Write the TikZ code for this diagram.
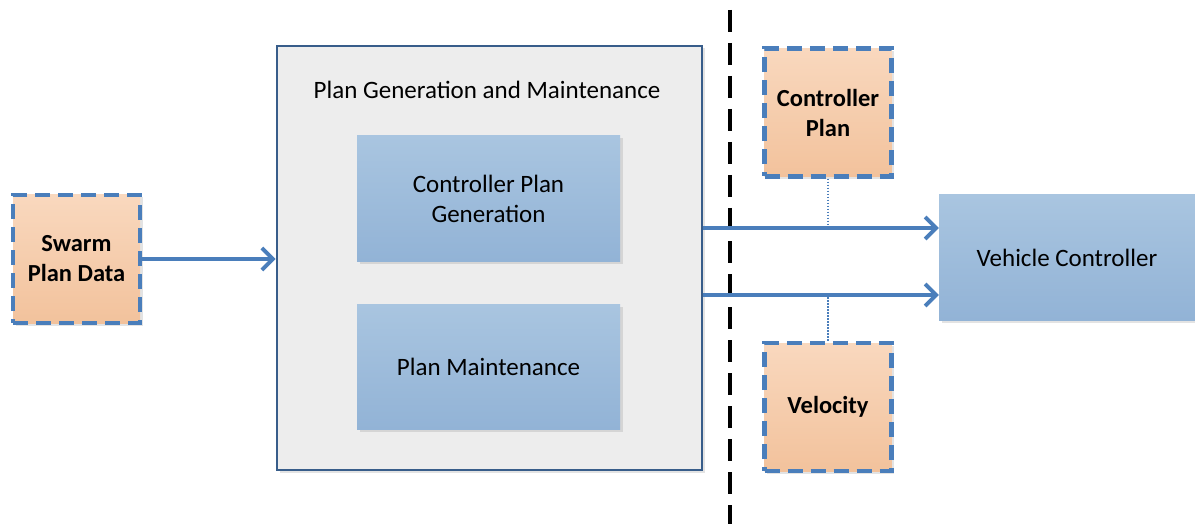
\documentclass[tikz,border=0pt]{standalone}
\usepackage{fontspec}
\setmainfont{Carlito}
\usetikzlibrary{arrows.meta,shadows}
\definecolor{dblue}{HTML}{4A7EBB}
\definecolor{frameblue}{HTML}{385D8A}
\definecolor{orangetop}{HTML}{F9D8BE}
\definecolor{orangebot}{HTML}{F2C29C}
\definecolor{bluetop}{HTML}{A9C5E0}
\definecolor{bluebot}{HTML}{92B3D6}
\definecolor{graybg}{HTML}{EDEDED}
\tikzset{
  x=1pt,y=-1pt,
  databox/.style={draw=dblue,line width=4.2pt,dash pattern=on 15pt off 8pt,
    top color=orangetop,bottom color=orangebot,minimum width=127pt,minimum height=128pt,
    align=center,font=\fontsize{24.5}{30}\selectfont\bfseries,inner sep=0pt,
    drop shadow={shadow xshift=2.5pt,shadow yshift=-2.5pt,opacity=0.22,fill=gray}},
  procbox/.style={top color=bluetop,bottom color=bluebot,draw=none,minimum width=263pt,
    minimum height=125pt,align=center,font=\fontsize{25}{30}\selectfont,inner sep=0pt,
    drop shadow={shadow xshift=2.5pt,shadow yshift=-2.5pt,opacity=0.22,fill=gray}},
  flow/.style={draw=dblue,line width=3.8pt,-{Straight Barb[length=11pt,width=22pt,line width=3.8pt]}},
  tie/.style={draw=dblue,line width=1.5pt,dash pattern=on 1.5pt off 1.5pt},
}
\begin{document}
\begin{tikzpicture}
\useasboundingbox (0,0) rectangle (1195,524);
% big frame
\node[draw=frameblue,line width=2.8pt,fill=graybg,minimum width=425pt,minimum height=424pt,inner sep=0pt,
  drop shadow={shadow xshift=2.5pt,shadow yshift=-2.5pt,opacity=0.22,fill=gray}] (pgm) at (489.5,258) {};
\node[font=\fontsize{25}{30}\selectfont] (title) at (487,90) {Plan Generation and Maintenance};
\node[procbox] (cpg) at (488.5,198.5) {Controller Plan\\Generation};
\node[procbox] (pm) at (488.5,366.5) {Plan Maintenance};
% data boxes
\node[databox] (spd) at (76.5,259) {Swarm\\Plan Data};
\node[databox] (cp) at (828,112.5) {Controller\\Plan};
\node[databox] (vel) at (828,407) {Velocity};
% vehicle controller
\node[procbox,minimum width=256pt,minimum height=125pt] (vc) at (1067,257.5) {Vehicle Controller};
% boundary line
\coordinate (btop) at (730,10);
\coordinate (bbot) at (730,524);
\draw[line width=3.4pt,dash pattern=on 22pt off 11pt] (btop) -- (bbot);
% arrows
\coordinate (a0e) at (pgm.west |- spd.east);
\draw[flow] (spd.east) -- (a0e);
\coordinate (a1s) at (pgm.east |- 0,228);
\coordinate (a1e) at (vc.west |- 0,228);
\coordinate (a2s) at (pgm.east |- 0,295);
\coordinate (a2e) at (vc.west |- 0,295);
\draw[flow] (a1s) -- (a1e);
\draw[flow] (a2s) -- (a2e);
\coordinate (t1) at (cp.south |- 0,228);
\coordinate (t2) at (vel.north |- 0,295);
\draw[tie] (cp.south) -- (t1);
\draw[tie] (vel.north) -- (t2);
\end{tikzpicture}
\end{document}
